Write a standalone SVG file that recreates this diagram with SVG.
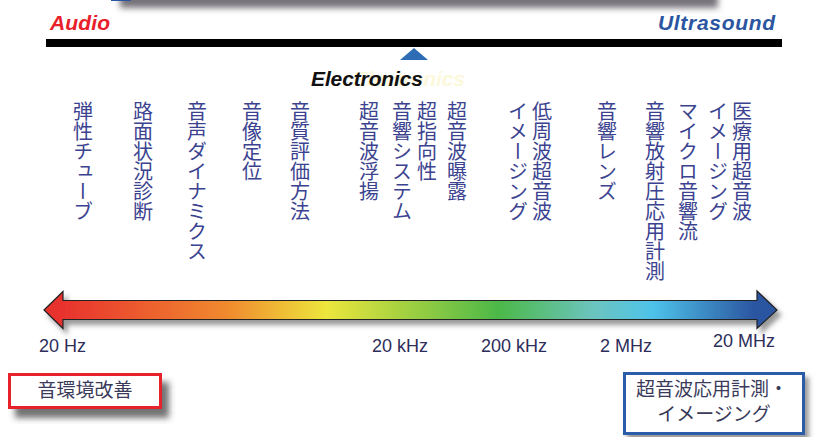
<svg xmlns="http://www.w3.org/2000/svg" width="815" height="437" viewBox="0 0 815 437">
<style>
.vt{font-family:"Noto Sans CJK JP","Noto Sans",sans-serif;font-size:20px;fill:#3b4390;writing-mode:vertical-rl;}
.fq{font-family:"Liberation Sans","Noto Sans",sans-serif;font-size:18px;fill:#2d2d5a;}
.bx{font-family:"Noto Sans CJK JP","Noto Sans",sans-serif;font-size:19px;fill:#3a3a5a;text-anchor:middle;}
.hd{font-family:"Liberation Sans",Arial,sans-serif;font-size:21px;font-weight:bold;font-style:italic;}
</style>
<defs>
<linearGradient id="spec" x1="44" y1="0" x2="777" y2="0" gradientUnits="userSpaceOnUse">
<stop offset="0.02" stop-color="#e8302e"/>
<stop offset="0.25" stop-color="#f08a2e"/>
<stop offset="0.385" stop-color="#ede63c"/>
<stop offset="0.62" stop-color="#4cb848"/>
<stop offset="0.75" stop-color="#6cc4bf"/>
<stop offset="0.83" stop-color="#4ec3ea"/>
<stop offset="0.97" stop-color="#2b55a0"/>
</linearGradient>
<filter id="sh" x="-10%" y="-30%" width="130%" height="180%">
<feDropShadow dx="4" dy="5" stdDeviation="2.5" flood-color="#555" flood-opacity="0.6"/>
</filter>
<filter id="bsh" x="-10%" y="-30%" width="130%" height="180%">
<feDropShadow dx="7" dy="9" stdDeviation="3" flood-color="#444" flood-opacity="0.75"/>
</filter>
<filter id="blur" x="-10%" y="-100%" width="120%" height="300%">
<feGaussianBlur stdDeviation="3"/>
</filter>
</defs>

<g id="top-shadow">
<rect x="120" y="-20" width="598" height="28" fill="#77737a" filter="url(#blur)"/>
<rect x="111" y="-5" width="20" height="6" fill="#2b55a0"/>
</g>

<g id="scale">
<text class="hd" x="50" y="30" fill="#e8202a" textLength="60">Audio</text>
<text class="hd" x="658" y="30" fill="#2b55a0" textLength="117">Ultrasound</text>
<rect x="46" y="39" width="736" height="8" fill="#000"/>
<polygon points="414,48 400,60 428,60" fill="#2e6db5"/>
<text class="hd" x="353" y="86" fill="#fbf8dc" font-size="20" textLength="112">Electronics</text>
<text class="hd" x="311" y="86" fill="#111" font-size="20" textLength="112">Electronics</text>
</g>

<g id="applications">
<text class="vt" x="83" y="101">弾性チューブ</text>
<text class="vt" x="143" y="101">路面状況診断</text>
<text class="vt" x="197" y="101">音声ダイナミクス</text>
<text class="vt" x="252" y="101">音像定位</text>
<text class="vt" x="300" y="101">音質評価方法</text>
<text class="vt" x="369" y="101">超音波浮揚</text>
<text class="vt" x="402" y="101">音響システム</text>
<text class="vt" x="427" y="101">超指向性</text>
<text class="vt" x="457" y="101">超音波曝露</text>
<text class="vt" x="518" y="101">イメージング</text>
<text class="vt" x="542" y="101">低周波超音波</text>
<text class="vt" x="607" y="101">音響レンズ</text>
<text class="vt" x="655" y="101">音響放射圧応用計測</text>
<text class="vt" x="688" y="101">マイクロ音響流</text>
<text class="vt" x="718" y="101">イメージング</text>
<text class="vt" x="742" y="101">医療用超音波</text>
</g>

<g id="connectors">
<path d="M44,310 L63,291.5 L63,300.5 L757,300.5 L757,291 L777,310 L757,328.5 L757,319.5 L63,319.5 L63,328.5 Z" fill="url(#spec)" stroke="#222" stroke-width="1.2" stroke-linejoin="miter" filter="url(#sh)"/>
</g>

<g id="frequencies">
<text class="fq" x="39" y="352">20 Hz</text>
<text class="fq" x="372" y="352">20 kHz</text>
<text class="fq" x="481" y="352">200 kHz</text>
<text class="fq" x="600" y="352">2 MHz</text>
<text class="fq" x="713" y="347">20 MHz</text>
</g>

<g id="box-audio">
<rect x="9.5" y="374.5" width="151" height="33" fill="#fff" stroke="#e8202a" stroke-width="3" filter="url(#bsh)"/>
<text class="bx" x="85" y="397">音環境改善</text>
</g>

<g id="box-ultrasound">
<rect x="624.5" y="373.5" width="179" height="60" fill="#fff" stroke="#2a5caa" stroke-width="3" filter="url(#sh)"/>
<text class="bx" x="712" y="396" font-size="18.5">超音波応用計測・</text>
<text class="bx" x="714" y="421" font-size="18.5">イメージング</text>
</g>
</svg>
